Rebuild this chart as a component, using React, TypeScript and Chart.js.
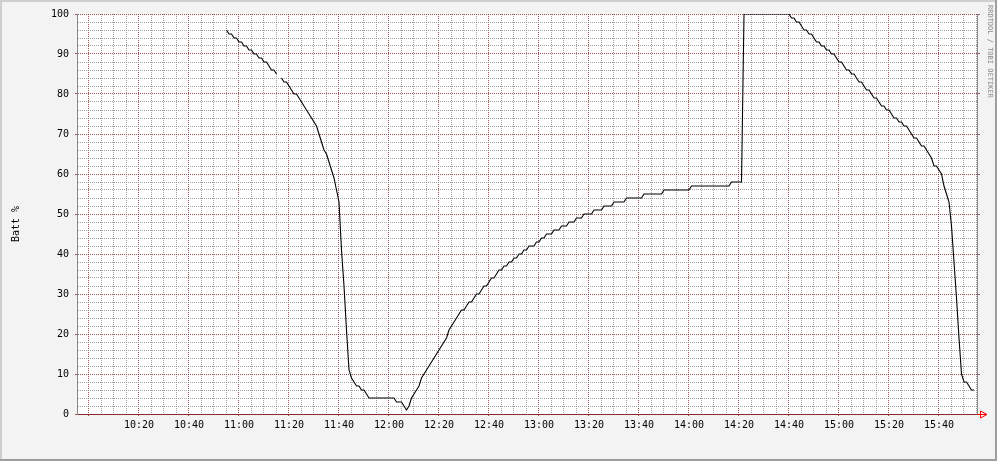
import React, { useEffect, useRef } from 'react';
import { Chart, registerables } from 'chart.js';

Chart.register(...registerables);

// Battery level (%) sampled once per minute; times are minutes after midnight.
const drainAStart = 655; // 10:55
const drainA = [96, 95, 95, 94, 94, 93, 93, 92, 92, 91, 91, 90, 90, 89, 89, 88, 88, 87, 86, 86, 85];
const gapMinute = 676; // missing sample
const drainBStart = 677; // 11:17
const drainB = [
  84, 83, 83, 82, 81, 80, 80, 79, 78, 77,
  76, 75, 74, 73, 72, 70, 68, 66, 65, 63,
  61, 59, 56, 53, 41, 32, 21, 11, 9, 8,
  7, 7, 6, 6, 5, 4, 4, 4, 4, 4,
  4, 4, 4, 4, 4, 4, 3, 3, 3, 2,
  1,
];
const chargeStart = 728; // 12:08
const charge = [
  2, 4, 5, 6, 7, 9, 10, 11, 12, 13,
  14, 15, 16, 17, 18, 19, 21, 22, 23, 24,
  25, 26, 26, 27, 28, 28, 29, 30, 30, 31,
  32, 32, 33, 34, 34, 35, 36, 36, 37, 37,
  38, 38, 39, 39, 40, 40, 41, 41, 42, 42,
  42, 43, 43, 44, 44, 45, 45, 45, 46, 46,
  46, 47, 47, 47, 48, 48, 48, 49, 49, 49,
  50, 50, 50, 50, 51, 51, 51, 51, 52, 52,
  52, 52, 53, 53, 53, 53, 53, 54, 54, 54,
  54, 54, 54, 54, 55, 55, 55, 55, 55, 55,
  55, 55, 56, 56, 56, 56, 56, 56, 56, 56,
  56, 56, 56, 57, 57, 57, 57, 57, 57, 57,
  57, 57, 57, 57, 57, 57, 57, 57, 57, 58,
  58, 58, 58, 58,
];
const fullStart = 862; // 14:22
const full = [100, 100, 100, 100, 100, 100, 100, 100, 100, 100, 100, 100, 100, 100, 100, 100, 100, 100, 100];
const drainCStart = 881; // 14:41
const drainC = [
  99, 99, 98, 98, 97, 96, 96, 95, 95, 94,
  93, 93, 92, 92, 91, 91, 90, 90, 89, 88,
  88, 87, 86, 86, 85, 85, 84, 83, 83, 82,
  81, 81, 80, 79, 79, 78, 77, 77, 76, 76,
  75, 74, 74, 73, 73, 72, 72, 71, 70, 69,
  69, 68, 67, 67, 66, 65, 64, 62, 62, 61,
  60, 57, 55, 53, 47, 38, 29, 19, 10, 8,
  8, 7, 6, 6,
];

const timeLabels = ['10:20', '10:40', '11:00', '11:20', '11:40', '12:00', '12:20', '12:40', '13:00', '13:20', '13:40', '14:00', '14:20', '14:40', '15:00', '15:20', '15:40'];
const valueLabels = ['0', '10', '20', '30', '40', '50', '60', '70', '80', '90', '100'];

const X_MIN = 595.2;
const X_MAX = 955.2;
const X_MINOR = 5;
const X_MAJOR = 20;
const Y_MINOR = 2;
const Y_MAJOR = 10;

const GRID = 'rgba(140,140,140,0.8)';
const MGRID = 'rgba(130,30,30,0.75)';
const AXIS = '#8a8a8a';
const FONT = 'DejaVu Sans Mono';

function seg(start: number, values: number[]) {
  return values.map((v, i) => ({ x: start + i, y: v }));
}

function fmtTime(v: number) {
  const h = Math.floor(v / 60);
  const m = Math.round(v - h * 60);
  return `${h}:${m < 10 ? '0' + m : m}`;
}

const rrdPlugin = {
  id: 'rrdFrame',
  beforeDraw(chart: any) {
    const { ctx, width, height, chartArea: a } = chart;
    ctx.save();
    ctx.fillStyle = '#f3f3f3';
    ctx.fillRect(0, 0, width, height);
    ctx.fillStyle = '#cfcfcf';
    ctx.fillRect(0, 0, width, 2);
    ctx.fillRect(0, 0, 2, height);
    ctx.fillStyle = '#9e9e9e';
    ctx.fillRect(0, height - 2, width, 2);
    ctx.fillRect(width - 2, 0, 2, height);
    ctx.fillStyle = '#ffffff';
    ctx.fillRect(a.left, a.top, a.right - a.left, a.bottom - a.top);
    ctx.restore();
  },
  afterDraw(chart: any) {
    const { ctx, chartArea: a } = chart;
    ctx.save();
    // x-axis arrow
    const y0 = Math.round(a.bottom) + 0.5;
    ctx.strokeStyle = '#ff0000';
    ctx.lineWidth = 1;
    ctx.beginPath();
    ctx.moveTo(a.right, y0);
    ctx.lineTo(a.right + 10, y0);
    ctx.moveTo(a.right + 3.5, y0 - 3.5);
    ctx.lineTo(a.right + 3.5, y0 + 3.5);
    ctx.lineTo(a.right + 10, y0);
    ctx.closePath();
    ctx.stroke();
    // vertical axis title
    ctx.fillStyle = '#000';
    ctx.font = `10px "${FONT}"`;
    ctx.textAlign = 'center';
    ctx.textBaseline = 'middle';
    ctx.translate(16, 224);
    ctx.rotate(-Math.PI / 2);
    ctx.fillText('Batt %', 0, 0);
    ctx.restore();
    // watermark
    ctx.save();
    ctx.fillStyle = '#8a8a8a';
    ctx.font = `7px "${FONT}"`;
    ctx.textAlign = 'left';
    ctx.textBaseline = 'middle';
    ctx.translate(990, 5);
    ctx.rotate(Math.PI / 2);
    ctx.fillText('RRDTOOL / TOBI OETIKER', 0, 0);
    ctx.restore();
  },
};

export default function App() {
  const ref = useRef<HTMLCanvasElement | null>(null);

  useEffect(() => {
    if (!ref.current) return;
    const points: any[] = [
      ...seg(drainAStart, drainA),
      { x: gapMinute, y: null },
      ...seg(drainBStart, drainB),
      ...seg(chargeStart, charge),
      ...seg(fullStart, full),
      ...seg(drainCStart, drainC),
    ];

    const xTicks: number[] = [];
    for (let v = Math.ceil(X_MIN / X_MINOR) * X_MINOR; v <= X_MAX; v += X_MINOR) xTicks.push(v);
    const yTicks: number[] = [];
    for (let v = 0; v <= 100; v += Y_MINOR) yTicks.push(v);

    const yTickStyle = {
      min: 0,
      max: 100,
      afterBuildTicks: (axis: any) => {
        axis.ticks = yTicks.map((v) => ({ value: v }));
      },
    };

    const chart = new Chart(ref.current, {
      type: 'line',
      data: {
        datasets: [
          {
            data: points,
            borderColor: '#000000',
            borderWidth: 1.1,
            pointRadius: 0,
            tension: 0,
            spanGaps: false,
            fill: false,
            yAxisID: 'y',
          },
        ],
      },
      options: {
        animation: false,
        responsive: false,
        events: [],
        layout: { padding: { left: 0, top: 14, right: 20, bottom: 0 } },
        plugins: { legend: { display: false }, tooltip: { enabled: false }, title: { display: false } },
        scales: {
          x: {
            type: 'linear',
            min: X_MIN,
            max: X_MAX,
            afterBuildTicks: (axis: any) => {
              axis.ticks = xTicks.map((v) => ({ value: v }));
            },
            afterFit: (axis: any) => {
              axis.height = 47;
            },
            ticks: {
              autoSkip: false,
              maxRotation: 0,
              minRotation: 0,
              padding: 3,
              color: '#000',
              font: { family: FONT, size: 10 },
              callback: (v: any) => {
                const s = fmtTime(Number(v));
                return timeLabels.includes(s) ? s : '';
              },
            },
            grid: {
              color: (c: any) => (c.tick && c.tick.value % X_MAJOR === 0 ? MGRID : GRID),
              lineWidth: 1,
              drawTicks: true,
              tickLength: 2,
              tickColor: (c: any) => (c.tick && c.tick.value % X_MAJOR === 0 ? MGRID : 'rgba(0,0,0,0)'),
            },
            border: { display: true, color: '#8b2a2a', width: 1, dash: [1, 1] },
          },
          y: {
            type: 'linear',
            position: 'left',
            ...yTickStyle,
            afterFit: (axis: any) => {
              axis.width = 77;
            },
            ticks: {
              autoSkip: false,
              padding: 6,
              color: '#000',
              font: { family: FONT, size: 10 },
              callback: (v: any) => {
                const s = String(v);
                return Number(v) % Y_MAJOR === 0 && valueLabels.includes(s) ? s : '';
              },
            },
            grid: {
              color: (c: any) => (c.tick && c.tick.value % Y_MAJOR === 0 ? MGRID : GRID),
              lineWidth: 1,
              drawTicks: true,
              tickLength: 2,
              tickColor: (c: any) => (c.tick && c.tick.value % Y_MAJOR === 0 ? MGRID : 'rgba(0,0,0,0)'),
            },
            border: { display: true, color: AXIS, width: 1, dash: [1, 1] },
          },
          y2: {
            type: 'linear',
            position: 'right',
            ...yTickStyle,
            afterFit: (axis: any) => {
              axis.width = 0;
            },
            ticks: { display: false },
            grid: {
              drawOnChartArea: false,
              drawTicks: true,
              tickLength: 3,
              tickColor: (c: any) => (c.tick && c.tick.value % Y_MAJOR === 0 ? MGRID : 'rgba(0,0,0,0)'),
            },
            border: { display: true, color: AXIS, width: 1 },
          },
        },
      },
      plugins: [rrdPlugin],
    } as any);

    return () => chart.destroy();
  }, []);

  return (
    <div style={{ position: 'absolute', left: 0, top: 0, width: 997, height: 461 }}>
      <canvas ref={ref} width={997} height={461} style={{ display: 'block', width: 997, height: 461 }} />
    </div>
  );
}
